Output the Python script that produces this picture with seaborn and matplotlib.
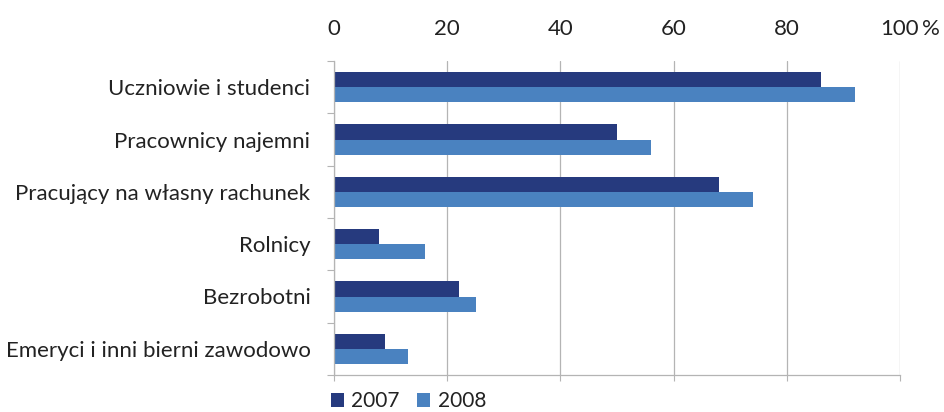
import matplotlib
matplotlib.use("Agg")
import matplotlib.pyplot as plt
import matplotlib.patches as mpatches
import seaborn as sns
import pandas as pd

categories = [
    "Uczniowie i studenci",
    "Pracownicy najemni",
    "Pracujący na własny rachunek",
    "Rolnicy",
    "Bezrobotni",
    "Emeryci i inni bierni zawodowo",
]
values_2007 = [86, 50, 68, 8, 22, 9]
values_2008 = [92, 56, 74, 16, 25, 13]
years = ["2007", "2008"]
x_ticks = [0, 20, 40, 60, 80, 100]
x_tick_labels = ["0", "20", "40", "60", "80", "100"]

colors = ["#263A7E", "#4A82C0"]
grid_c = "#B4B4B4"
text_c = "#222222"

df = pd.DataFrame({
    "category": categories * 2,
    "value": values_2007 + values_2008,
    "year": [years[0]] * len(categories) + [years[1]] * len(categories),
})

sns.set_theme(style="white")
plt.rcParams["font.family"] = ["Lato", "DejaVu Sans"]

fig = plt.figure(figsize=(9.44, 4.12), dpi=100)
ax = fig.add_axes([334 / 944, 1 - 375 / 412, (900 - 334) / 944, (375 - 61) / 412])

sns.barplot(data=df, y="category", x="value", hue="year", order=categories,
            hue_order=years, palette=colors, width=0.58, saturation=1,
            orient="h", legend=False, ax=ax, edgecolor="none")

ax.set_xlim(0, 100)
ax.set_ylim(len(categories) - 0.5, -0.5)
ax.set_xlabel("")
ax.set_ylabel("")

# x axis: labels on top, ticks at bottom
ax.set_xticks(x_ticks)
ax.set_xticklabels(x_tick_labels)
ax.tick_params(axis="x", top=False, bottom=True, labeltop=True, labelbottom=False,
               length=4, width=0.8, color=grid_c, pad=12, labelsize=16, labelcolor=text_c)
ax.annotate("%", xy=(100, 1), xycoords=("data", "axes fraction"),
            xytext=(15.5, 16), textcoords="offset points", ha="left", va="bottom",
            fontsize=16, color=text_c)

# y axis: ticks at boundaries, labels centered
ax.set_yticks([i - 0.5 for i in range(len(categories) + 1)])
ax.set_yticklabels([])
ax.set_yticks(list(range(len(categories))), minor=True)
ax.set_yticklabels(categories, minor=True)
ax.tick_params(axis="y", which="major", left=True, length=5, width=0.8, color=grid_c)
ax.tick_params(axis="y", which="minor", left=True, length=0, pad=17, labelsize=16,
               labelcolor=text_c)

ax.grid(axis="x", color=grid_c, linewidth=0.9)
ax.grid(axis="y", visible=False)
ax.set_axisbelow(True)
for s in ["top", "right"]:
    ax.spines[s].set_visible(False)
for s in ["left", "bottom"]:
    ax.spines[s].set_color(grid_c)
    ax.spines[s].set_linewidth(0.9)

handles = [mpatches.Patch(facecolor=c, edgecolor="none") for c in colors]
fig.legend(handles, years, loc="lower left", bbox_to_anchor=(331 / 944, 0.002),
           ncol=2, frameon=False, fontsize=15, handlelength=0.62, handleheight=0.62,
           handletextpad=0.35, columnspacing=0.85, borderpad=0, borderaxespad=0,
           labelcolor=text_c)

fig.savefig("out.png", dpi=100)
